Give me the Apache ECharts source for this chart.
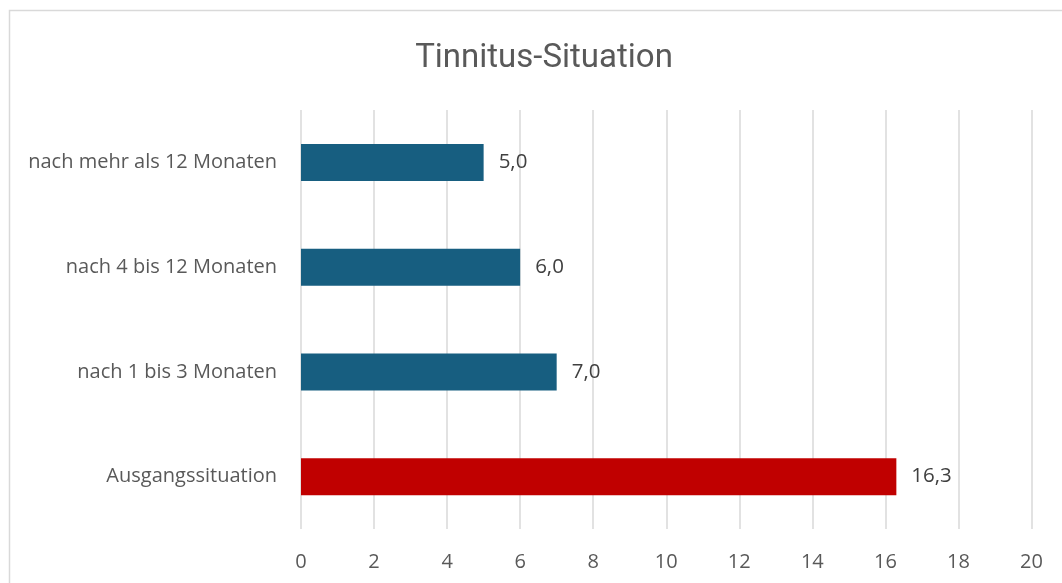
<!DOCTYPE html>
<html>
<head>
<meta charset="utf-8">
<script src="https://cdn.jsdelivr.net/npm/echarts@6/dist/echarts.min.js"></script>
<style>
  html, body { margin: 0; padding: 0; background: #fff; }
  #chart { width: 1062px; height: 583px; }
</style>
</head>
<body>
<div id="chart"></div>
<script>
// data
const categories = ['Ausgangssituation', 'nach 1 bis 3 Monaten', 'nach 4 bis 12 Monaten', 'nach mehr als 12 Monaten'];
const values = [16.3, 7.0, 6.0, 5.0];
const barColors = ['#c00000', '#175e80', '#175e80', '#175e80'];
const xTicks = [0, 2, 4, 6, 8, 10, 12, 14, 16, 18, 20];

const chart = echarts.init(document.getElementById('chart'));

let option = {
  animation: false,
  textStyle: { fontFamily: '"Open Sans", sans-serif' },
  title: {
    text: 'Tinnitus-Situation',
    left: 539,
    top: 37,
    textAlign: 'center',
    textStyle: { fontSize: 33, fontWeight: 'normal', color: '#595959', fontFamily: 'Roboto, sans-serif' }
  },
  graphic: [{
    type: 'rect',
    shape: { x: 9.5, y: 10.5, width: 1100, height: 620 },
    style: { fill: 'none', stroke: '#d9d9d9', lineWidth: 1.5 },
    silent: true,
    z: -10
  }],
  grid: { left: 301, right: 30.5, top: 110, bottom: 54 },
  xAxis: {
    type: 'value',
    min: xTicks[0],
    max: xTicks[xTicks.length - 1],
    interval: 2,
    axisLine: { show: false },
    axisTick: { show: false },
    splitLine: { lineStyle: { color: '#d9d9d9', width: 1.5 } },
    axisLabel: { fontSize: 20, color: '#595959', margin: 23, fontFamily: '"Open Sans", sans-serif' }
  },
  yAxis: {
    type: 'category',
    data: categories,
    axisLine: { show: false },
    axisTick: { show: false },
    axisLabel: { fontSize: 20, color: '#595959', margin: 24, lineHeight: 24, padding: [3, 0, 0, 0], fontFamily: '"Open Sans", sans-serif' }
  },
  series: [{
    type: 'bar',
    barWidth: 37,
    data: values.map((v, i) => ({ value: v, itemStyle: { color: barColors[i] } })),
    label: {
      show: true,
      position: 'right',
      distance: 15,
      fontSize: 20.5,
      color: '#404040',
      padding: [3, 0, 0, 0],
      fontFamily: '"Open Sans", sans-serif',
      formatter: p => p.value.toFixed(1).replace('.', ',')
    }
  }]
};

chart.setOption(option);
</script>
</body>
</html>
